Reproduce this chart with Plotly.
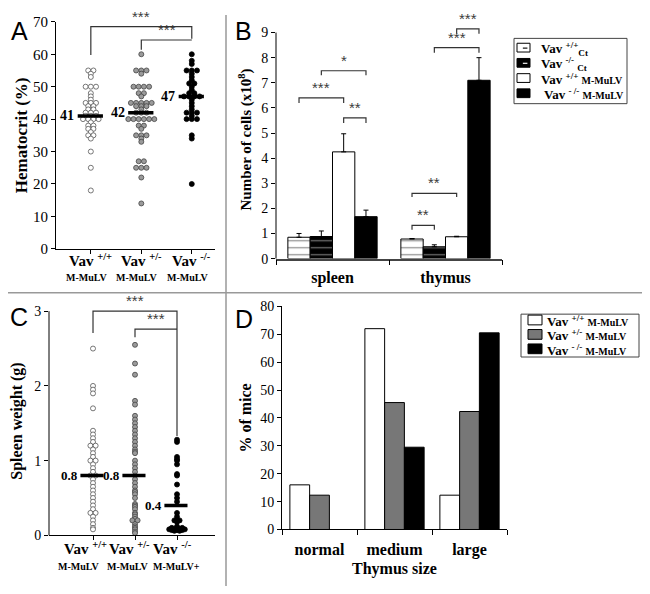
import plotly.graph_objects as go
from collections import Counter

# The page body keeps the browser's default 8px margin, so the figure is laid out
# 8px smaller and every reference pixel position is shifted by that offset.
PAGE_W, PAGE_H = 650, 594
OFF = 8
W, H = PAGE_W - OFF, PAGE_H - OFF
SERIF = "Liberation Serif"
SANS = "Liberation Sans"

# ---------------- Panel A: hematocrit (%) ----------------
a_groups = ["Vav +/+", "Vav +/-", "Vav -/-"]
a_wt = [55, 55, 54, 53, 50, 50, 50, 48, 47, 46, 45, 45, 45, 44, 44, 43, 43, 42, 42, 42,
        41, 41, 41, 40, 40, 40, 40, 39, 38, 38, 37, 37, 36, 35, 35, 34, 30, 25, 18]
a_het = [60, 55, 55, 55, 54, 50, 50, 50, 50, 48, 48, 47, 45, 45, 45, 45, 45, 44, 44, 44,
         43, 42, 42, 42, 40, 40, 40, 40, 40, 40, 38, 38, 37, 35, 35, 35, 34, 33, 27, 27,
         25, 25, 25, 22, 14]
a_ko = [60, 58, 57, 55, 55, 55, 54, 53, 52, 51, 51, 50, 49, 48, 48, 47, 47, 47, 47, 46,
        45, 44, 43, 42, 42, 42, 41, 40, 40, 40, 35, 34, 20]
a_medians = [41, 42, 47]
a_median_labels = ["41", "42", "47"]
a_tick_sup = ["+/+", "+/-", "-/-"]
a_tick_sub = ["M-MuLV", "M-MuLV", "M-MuLV"]

# ---------------- Panel B: number of cells (x10^8) ----------------
b_tissues = ["spleen", "thymus"]
b_wt_ct = [0.85, 0.78]
b_wt_ct_err = [0.15, 0.02]
b_ko_ct = [0.88, 0.47]
b_ko_ct_err = [0.22, 0.08]
b_wt_mulv = [4.25, 0.87]
b_wt_mulv_err = [0.72, 0.02]
b_ko_mulv = [1.67, 7.10]
b_ko_mulv_err = [0.26, 0.90]

# ---------------- Panel C: spleen weight (g) ----------------
c_wt = [2.5, 2.0, 1.95, 1.9, 1.7, 1.4, 1.35, 1.3, 1.25, 1.2, 1.2, 1.15, 1.1, 1.05, 1.0,
        1.0, 0.95, 0.9, 0.85, 0.8, 0.8, 0.75, 0.7, 0.65, 0.6, 0.55, 0.5, 0.45, 0.4, 0.35,
        0.3, 0.3, 0.25, 0.2, 0.15, 0.1, 0.08]
c_het = [2.55, 2.3, 2.15, 1.8, 1.75, 1.6, 1.55, 1.5, 1.45, 1.4, 1.35, 1.3, 1.25, 1.2, 1.15,
         1.12, 1.1, 1.0, 0.95, 0.9, 0.85, 0.8, 0.75, 0.7, 0.65, 0.6, 0.58, 0.55, 0.5, 0.42,
         0.4, 0.38, 0.35, 0.3, 0.28, 0.25, 0.22, 0.2, 0.2, 0.15, 0.12, 0.1, 0.08, 0.05, 0.03]
c_ko = [1.28, 1.25, 1.05, 1.02, 1.0, 0.95, 0.82, 0.8, 0.68, 0.55, 0.5, 0.45, 0.3, 0.25, 0.2,
        0.2, 0.18, 0.12, 0.1, 0.1, 0.1, 0.08, 0.08, 0.08, 0.08, 0.07, 0.07, 0.07, 0.06, 0.06]
c_medians = [0.8, 0.8, 0.4]
c_median_labels = ["0.8", "0.8", "0.4"]
c_tick_sup = ["+/+", "+/-", "-/-"]
c_tick_sub = ["M-MuLV", "M-MuLV", "M-MuLV+"]

# ---------------- Panel D: % of mice by thymus size ----------------
d_sizes = ["normal", "medium", "large"]
d_wt = [16.0, 72.0, 12.3]
d_het = [12.3, 45.5, 42.3]
d_ko = [0.0, 29.5, 70.5]


def px_x(p):
    return (p - OFF) / W


def px_y(p):
    return 1 - (p - OFF) / H


fig = go.Figure()

# ---------- layout geometry (page pixels) ----------
A_dom = dict(x=[px_x(56), px_x(215)], y=[px_y(248), px_y(15)])
A_xr = [0.31, 3.46]
A_yr = [0, 70]
B_dom = dict(x=[px_x(276), px_x(502)], y=[px_y(258), px_y(5.4 + OFF)])
B_yr = [0, 9.8 - OFF / 25.78]
C_dom = dict(x=[px_x(49), px_x(215)], y=[px_y(542), px_y(307.4)])
C_xr = [-0.048, 3.905]
C_yr = [0, 3.06]
D_dom = dict(x=[px_x(282), px_x(507)], y=[px_y(536), px_y(307)])
BARGAP = 0.21
c_label_shift = [-0.19, -0.12, -0.1]
c_sub_shift = [-0.33, -0.17, -0.02]


def swarm(vals, center, px_per_x, dot=5.2):
    xs, ys = [], []
    counts = Counter(vals)
    for v in sorted(counts, reverse=True):
        n = counts[v]
        for k in range(n):
            xs.append(center + (k - (n - 1) / 2) * dot / px_per_x)
            ys.append(v)
    return xs, ys


dot_styles = [("white", "#555555"), ("#9a9a9a", "#444444"), ("black", "black")]

# ---------- Panel A dots ----------
a_ppx = (215 - 56) / (A_xr[1] - A_xr[0])
for i, (vals, (fc, lc)) in enumerate(zip([a_wt, a_het, a_ko], dot_styles)):
    xs, ys = swarm(vals, i + 1, a_ppx)
    fig.add_trace(go.Scatter(x=xs, y=ys, mode="markers", xaxis="x", yaxis="y",
                             marker=dict(size=5, color=fc, line=dict(color=lc, width=0.8)),
                             showlegend=False, cliponaxis=False, hoverinfo="skip"))

# ---------- Panel C dots ----------
c_ppx = (215 - 49) / (C_xr[1] - C_xr[0])
for i, (vals, (fc, lc)) in enumerate(zip([c_wt, c_het, c_ko], dot_styles)):
    xs, ys = swarm(vals, i + 1, c_ppx)
    fig.add_trace(go.Scatter(x=xs, y=ys, mode="markers", xaxis="x3", yaxis="y3",
                             marker=dict(size=5, color=fc, line=dict(color=lc, width=0.8)),
                             showlegend=False, cliponaxis=False, hoverinfo="skip"))

shapes = []
annotations = []

# median bars + labels
for i, (m, lab) in enumerate(zip(a_medians, a_median_labels)):
    shapes.append(dict(type="line", xref="x", yref="y", x0=i + 1 - 0.26, x1=i + 1 + 0.24,
                       y0=m, y1=m, line=dict(color="black", width=3.5)))
    annotations.append(dict(xref="x", yref="y", x=i + 1 - 0.29, y=m, text="<b>%s</b>" % lab,
                            showarrow=False, xanchor="right", yanchor="middle",
                            font=dict(family=SERIF, size=14, color="black")))
for i, (m, lab) in enumerate(zip(c_medians, c_median_labels)):
    shapes.append(dict(type="line", xref="x3", yref="y3", x0=i + 1 - 0.3, x1=i + 1 + 0.25,
                       y0=m, y1=m, line=dict(color="black", width=3.5)))
    annotations.append(dict(xref="x3", yref="y3", x=i + 1 - 0.31, y=m, text="<b>%s</b>" % lab,
                            showarrow=False, xanchor="right", yanchor="middle",
                            font=dict(family=SERIF, size=13, color="black")))

# genotype labels under the x axes of A and C
for i, (s, t) in enumerate(zip(a_tick_sup, a_tick_sub)):
    annotations.append(dict(xref="x", yref="paper", x=i + 1, y=px_y(259),
                            text="<b>Vav <sup>%s</sup></b>" % s, showarrow=False,
                            xanchor="center", yanchor="middle",
                            font=dict(family=SERIF, size=15, color="black")))
    annotations.append(dict(xref="x", yref="paper", x=i + 1 - 0.08, y=px_y(277), text="<b>%s</b>" % t,
                            showarrow=False, xanchor="center", yanchor="middle",
                            font=dict(family=SERIF, size=10, color="black")))
for i, (s, t) in enumerate(zip(c_tick_sup, c_tick_sub)):
    annotations.append(dict(xref="x3", yref="paper", x=i + 1 + c_label_shift[i], y=px_y(555),
                            text="<b>Vav <sup>%s</sup></b>" % s, showarrow=False,
                            xanchor="center", yanchor="middle",
                            font=dict(family=SERIF, size=15, color="black")))
    annotations.append(dict(xref="x3", yref="paper", x=i + 1 + c_sub_shift[i], y=px_y(574),
                            text="<b>%s</b>" % t, showarrow=False, xanchor="center", yanchor="middle",
                            font=dict(family=SERIF, size=10, color="black")))


def bracket(xa, ya, x0, x1, top, b0, b1, label, color="#333333"):
    shapes.append(dict(type="path", xref=xa, yref=ya,
                       path="M %f,%f L %f,%f L %f,%f L %f,%f" % (x0, b0, x0, top, x1, top, x1, b1),
                       line=dict(color=color, width=1.2)))
    annotations.append(dict(xref=xa, yref=ya, x=(x0 + x1) / 2, y=top, text=label,
                            showarrow=False, xanchor="center", yanchor="bottom", yshift=0,
                            font=dict(family=SANS, size=15, color="#3c3c3c")))


# Panel A significance
bracket("x", "y", 1, 3, 68.5, 59.8, 64.8, "***")
bracket("x", "y", 2, 3, 64.4, 61.4, 64.4, "***")
# Panel C significance
bracket("x3", "y3", 1, 3, 3.0, 2.71, 1.33, "***")
bracket("x3", "y3", 2, 3, 2.76, 2.65, 2.76, "***")

MUL = "<span style='font-size:10px'>M-MuLV</span>"

# ---------- Panel B bars ----------
b_series = [
    ("<b>Vav <sup>+/+</sup><sub>Ct</sub></b>", b_wt_ct, b_wt_ct_err, "white", "#222222"),
    ("<b>Vav <sup>-/-</sup> <sub>Ct</sub></b>", b_ko_ct, b_ko_ct_err, "black", "#dddddd"),
    ("<b>Vav <sup>+/+</sup> %s</b>" % MUL, b_wt_mulv, b_wt_mulv_err, "white", None),
    ("<b> Vav <sup>- /-</sup> %s</b>" % MUL, b_ko_mulv, b_ko_mulv_err, "black", None),
]
for name, vals, err, col, dash in b_series:
    marker = dict(color=col, line=dict(color="black", width=1))
    if dash is not None:
        marker["pattern"] = dict(shape="-", fgcolor=dash, bgcolor=col, size=7, solidity=0.18)
    fig.add_trace(go.Bar(x=b_tissues, y=vals, name=name, xaxis="x2", yaxis="y2",
                         marker=marker, showlegend=False,
                         error_y=dict(type="data", array=err, arrayminus=[0] * len(err),
                                      symmetric=False, color="black", thickness=1, width=2.5)))

nb = len(b_series)
bw = (1 - BARGAP) / nb


def boff(cat, k):
    return cat - (1 - BARGAP) / 2 + bw * (k + 0.5)


# Panel B significance (x positions from bar slots)
bracket("x2", "y2", boff(0, 0), boff(0, 2), 6.4, 6.2, 6.2, "***")
bracket("x2", "y2", boff(0, 1), boff(0, 3), 7.48, 7.3, 7.3, "*")
bracket("x2", "y2", boff(0, 2), boff(0, 3), 5.6, 5.4, 5.4, "**")
bracket("x2", "y2", boff(1, 0), boff(1, 1), 1.32, 1.15, 1.15, "**")
bracket("x2", "y2", boff(1, 0), boff(1, 2), 2.6, 2.45, 2.45, "**")
bracket("x2", "y2", boff(1, 1), boff(1, 3), 8.4, 8.2, 8.2, "***")
bracket("x2", "y2", boff(1, 2), boff(1, 3), 9.15, 8.95, 8.95, "***")

# B / C y-axis lines only up to the top tick
b_top = B_dom["y"][0] + (9 - B_yr[0]) / (B_yr[1] - B_yr[0]) * (B_dom["y"][1] - B_dom["y"][0])
shapes.append(dict(type="line", xref="paper", yref="paper", x0=B_dom["x"][0], x1=B_dom["x"][0],
                   y0=B_dom["y"][0], y1=b_top, line=dict(color="black", width=1)))
c_top = C_dom["y"][0] + (3 - C_yr[0]) / (C_yr[1] - C_yr[0]) * (C_dom["y"][1] - C_dom["y"][0])
shapes.append(dict(type="line", xref="paper", yref="paper", x0=C_dom["x"][0], x1=C_dom["x"][0],
                   y0=C_dom["y"][0], y1=c_top, line=dict(color="black", width=1)))

# ---------- Panel D bars ----------
d_series = [
    ("<b>Vav <sup>+/+</sup> %s</b>" % MUL, d_wt, "white"),
    ("<b>Vav <sup>+/-</sup> %s</b>" % MUL, d_het, "#777777"),
    ("<b>Vav <sup>- /-</sup> %s</b>" % MUL, d_ko, "black"),
]
for name, vals, col in d_series:
    fig.add_trace(go.Bar(x=d_sizes, y=vals, name=name, xaxis="x4", yaxis="y4", showlegend=False,
                         marker=dict(color=col, line=dict(color="black",
                                                          width=[1 if v > 0 else 0 for v in vals]))))


# ---------- boxed legends (built from the series lists) ----------
def legend_box(entries, box, first_y, step, sym_x, sym_w, sym_h, text_x):
    x0, y0, x1, y1 = box
    shapes.append(dict(type="rect", xref="paper", yref="paper", x0=px_x(x0), x1=px_x(x1),
                       y0=px_y(y1), y1=px_y(y0), line=dict(color="#444444", width=1),
                       fillcolor="white", layer="above"))
    for k, (name, col, dash) in enumerate(entries):
        cy = first_y + k * step
        shapes.append(dict(type="rect", xref="paper", yref="paper", x0=px_x(sym_x),
                           x1=px_x(sym_x + sym_w), y0=px_y(cy + sym_h / 2), y1=px_y(cy - sym_h / 2),
                           line=dict(color="black", width=1), fillcolor=col, layer="above"))
        if dash is not None:
            shapes.append(dict(type="line", xref="paper", yref="paper", x0=px_x(sym_x + sym_w * 0.45),
                               x1=px_x(sym_x + sym_w * 0.8), y0=px_y(cy + 0.5), y1=px_y(cy + 0.5),
                               line=dict(color=dash, width=1.3), layer="above"))
        annotations.append(dict(xref="paper", yref="paper", x=px_x(text_x), y=px_y(cy), yshift=-1,
                                text=name, showarrow=False, xanchor="left", yanchor="middle",
                                font=dict(family=SERIF, size=13, color="black")))


legend_box([(n, c, d) for n, _, _, c, d in b_series], (514, 32, 627, 99), 41.5, 15.6,
           517, 13, 9, 539)
legend_box([(n, c, None) for n, _, c in d_series], (521, 315, 639, 359), 321, 14.8,
           528, 14, 10, 545)

# ---------- panel dividers & letters ----------
shapes.append(dict(type="line", xref="paper", yref="paper", x0=px_x(226), x1=px_x(226), y0=0, y1=1,
                   line=dict(color="#999999", width=1.5)))
shapes.append(dict(type="line", xref="paper", yref="paper", x0=0, x1=1, y0=px_y(293), y1=px_y(293),
                   line=dict(color="#999999", width=1.5)))
for letter, lx, ly in [("A", 9, 8), ("B", 233, 8), ("C", 8, 301), ("D", 233, 304)]:
    annotations.append(dict(xref="paper", yref="paper", x=px_x(lx), y=px_y(ly), text=letter,
                            showarrow=False, xanchor="left", yanchor="top",
                            font=dict(family=SANS, size=25, color="black")))

axis_common = dict(showgrid=False, zeroline=False, linecolor="black", linewidth=1,
                   ticks="outside", tickcolor="black", ticklen=4)

fig.update_layout(
    width=W, height=H, margin=dict(l=0, r=0, t=0, b=0),
    paper_bgcolor="white", plot_bgcolor="white",
    barmode="group", bargap=BARGAP, bargroupgap=0,
    font=dict(family=SERIF, color="black"),
    showlegend=False,
    xaxis=dict(domain=A_dom["x"], anchor="y", range=A_xr, tickvals=[1, 2, 3], showticklabels=False,
               showline=True, **axis_common),
    yaxis=dict(domain=A_dom["y"], anchor="x", range=A_yr, dtick=10, showline=True,
               tickfont=dict(family=SERIF, size=15),
               title=dict(text="<b>Hematocrit (%)</b>", font=dict(family=SERIF, size=17), standoff=1),
               **axis_common),
    xaxis2=dict(domain=B_dom["x"], anchor="y2", type="category", tickson="boundaries",
                showline=True, tickfont=dict(family=SERIF, size=16), tickangle=0, ticklabelstandoff=3,
                ticktext=["<b>spleen</b>", "<b>thymus</b>"], tickvals=b_tissues,
                **{**axis_common, "linecolor": "#444444", "linewidth": 1.5, "ticklen": 5}),
    yaxis2=dict(domain=B_dom["y"], anchor="x2", range=B_yr, tickvals=list(range(10)),
                showline=False, tickfont=dict(family=SERIF, size=14),
                title=dict(text="<b>Number of cells (x10<sup>8</sup>)</b>",
                           font=dict(family=SERIF, size=15), standoff=5),
                **axis_common),
    xaxis3=dict(domain=C_dom["x"], anchor="y3", range=C_xr, tickvals=[1, 2, 3], showticklabels=False,
                showline=True, **axis_common),
    yaxis3=dict(domain=C_dom["y"], anchor="x3", range=C_yr, tickvals=[0, 1, 2, 3], showline=False,
                tickfont=dict(family=SERIF, size=14),
                title=dict(text="<b>Spleen weight (g)</b>", font=dict(family=SERIF, size=16), standoff=10),
                **axis_common),
    xaxis4=dict(domain=D_dom["x"], anchor="y4", type="category", tickson="boundaries",
                showline=True, tickfont=dict(family=SERIF, size=16), tickangle=0, ticklabelstandoff=5,
                ticktext=["<b>normal</b>", "<b>medium</b>", "<b>large</b>"], tickvals=d_sizes,
                title=dict(text="<b>Thymus size</b>", font=dict(family=SERIF, size=16), standoff=5),
                **{**axis_common, "ticklen": 5}),
    yaxis4=dict(domain=D_dom["y"], anchor="x4", range=[0, 80], dtick=10, showline=True,
                tickfont=dict(family=SERIF, size=14),
                title=dict(text="<b>% of mice</b>", font=dict(family=SERIF, size=16), standoff=4),
                **axis_common),
    shapes=shapes,
    annotations=annotations,
)

fig.write_html("out.html")
